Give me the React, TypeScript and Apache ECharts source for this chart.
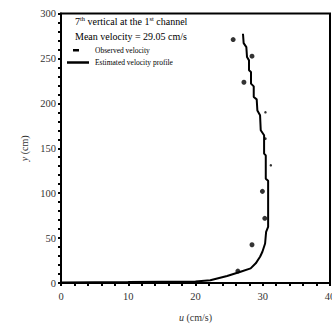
import React, { useEffect, useRef } from "react";
import * as echarts from "echarts";

const xTicks = [0, 10, 20, 30, 40];
const yTicks = [0, 50, 100, 150, 200, 250, 300];

// Observed velocity (large dots)
const obsBigU = [25.6, 28.4, 27.2, 29.95, 30.3, 28.4, 26.3];
const obsBigY = [271, 252.5, 223.5, 102, 72, 42.6, 13.3];
// Observed velocity (small dots)
const obsSmallU = [30.4, 30.4, 31.2];
const obsSmallY = [190, 160.7, 131];

// Estimated velocity profile
const profU = [
  0, 10, 20, 22.2, 24.7, 26.7, 28.2, 28.96, 29.6, 29.95, 30.35, 30.5, 30.8, 30.8,
  30.45, 30.45, 30.2, 30.2, 29.7, 29.6, 29.2, 29.1, 28.66, 28.66, 28.25, 28.25,
  27.96, 27.96, 27.66, 27.56, 27.16, 27.06,
];
const profY = [
  0.5, 1, 1.8, 3, 7.8, 12.6, 16.3, 21.9, 29.2, 34.8, 44, 57, 62.6, 113.7,
  116, 142, 144, 164.4, 170, 186.7, 192, 204.4, 207, 218.9, 221.9, 234.8,
  236.7, 247.8, 251.5, 262.6, 267, 277.4,
];

const serif = "Liberation Serif";

export default function App() {
  const ref = useRef<HTMLDivElement>(null);
  useEffect(() => {
    if (!ref.current) return;
    const chart = echarts.init(ref.current, undefined, { renderer: "svg" });
    chart.setOption({
      animation: false,
      textStyle: { fontFamily: serif },
      grid: {
        left: 61,
        top: 13.5,
        right: 2,
        bottom: 42,
        show: true,
        borderColor: "#000",
        borderWidth: 2,
        containLabel: false,
        outerBoundsMode: "none",
      },
      xAxis: {
        type: "value",
        min: xTicks[0],
        max: xTicks[xTicks.length - 1],
        interval: 10,
        name: "{i|u} (cm/s)",
        nameLocation: "middle",
        nameGap: 29,
        nameTextStyle: {
          fontFamily: serif,
          fontSize: 10,
          color: "#333",
          rich: { i: { fontStyle: "italic", fontFamily: serif, fontSize: 10, color: "#333" } },
        },
        axisLine: { show: true, lineStyle: { color: "#000", width: 2 } },
        axisTick: { show: true, length: 3, lineStyle: { color: "#000", width: 2 } },
        minorTick: { show: true, splitNumber: 5, length: 3, lineStyle: { color: "#000", width: 2 } },
        axisLabel: { fontFamily: serif, fontSize: 10.5, color: "#333", margin: 8 },
        splitLine: { show: false },
      },
      yAxis: {
        type: "value",
        min: yTicks[0],
        max: yTicks[yTicks.length - 1],
        interval: 50,
        name: "{i|y} (cm)",
        nameLocation: "middle",
        nameGap: 28,
        nameRotate: 90,
        nameTextStyle: {
          fontFamily: serif,
          fontSize: 10,
          color: "#333",
          rich: { i: { fontStyle: "italic", fontFamily: serif, fontSize: 10, color: "#333" } },
        },
        axisLine: { show: true, lineStyle: { color: "#000", width: 2 } },
        axisTick: { show: true, length: 3, lineStyle: { color: "#000", width: 2 } },
        minorTick: { show: true, splitNumber: 5, length: 3, lineStyle: { color: "#000", width: 2 } },
        axisLabel: { fontFamily: serif, fontSize: 10.5, color: "#333", margin: 5 },
        splitLine: { show: false },
      },
      series: [
        {
          name: "Estimated velocity profile",
          type: "line",
          data: profU.map((u, i) => [u, profY[i]]),
          showSymbol: false,
          lineStyle: { color: "#000", width: 2 },
          z: 2,
        },
        {
          name: "Observed velocity",
          type: "scatter",
          data: obsBigU.map((u, i) => [u, obsBigY[i]]),
          symbolSize: 5,
          itemStyle: { color: "#000" },
          z: 3,
        },
        {
          name: "Observed velocity",
          type: "scatter",
          data: obsSmallU.map((u, i) => [u, obsSmallY[i]]),
          symbolSize: 2.5,
          itemStyle: { color: "#000" },
          z: 3,
        },
      ],
      graphic: [
        {
          type: "text",
          left: 75,
          top: 15,
          style: {
            text: "7{sup|th} vertical at the 1{sup|st} channel",
            fontFamily: serif,
            fontSize: 10,
            fill: "#000",
            rich: {
              sup: { fontSize: 6.5, fontFamily: serif, verticalAlign: "top", padding: [0, 0, 5, 0] },
            },
          },
        },
        {
          type: "text",
          left: 75,
          top: 31,
          style: { text: "Mean velocity = 29.05 cm/s", fontFamily: serif, fontSize: 10, fill: "#000" },
        },
        { type: "rect", shape: { x: 73, y: 49, width: 6, height: 2.5 }, style: { fill: "#000" } },
        {
          type: "text",
          left: 95,
          top: 46,
          style: { text: "Observed velocity", fontFamily: serif, fontSize: 7.5, fill: "#000" },
        },
        { type: "line", shape: { x1: 67, y1: 62.5, x2: 89, y2: 62.5 }, style: { stroke: "#000", lineWidth: 2.5 } },
        {
          type: "text",
          left: 95,
          top: 58,
          style: { text: "Estimated velocity profile", fontFamily: serif, fontSize: 7.5, fill: "#000" },
        },
      ],
    });
    return () => chart.dispose();
  }, []);
  return <div ref={ref} style={{ width: 332, height: 325, position: "absolute", left: 0, top: 0 }} />;
}
